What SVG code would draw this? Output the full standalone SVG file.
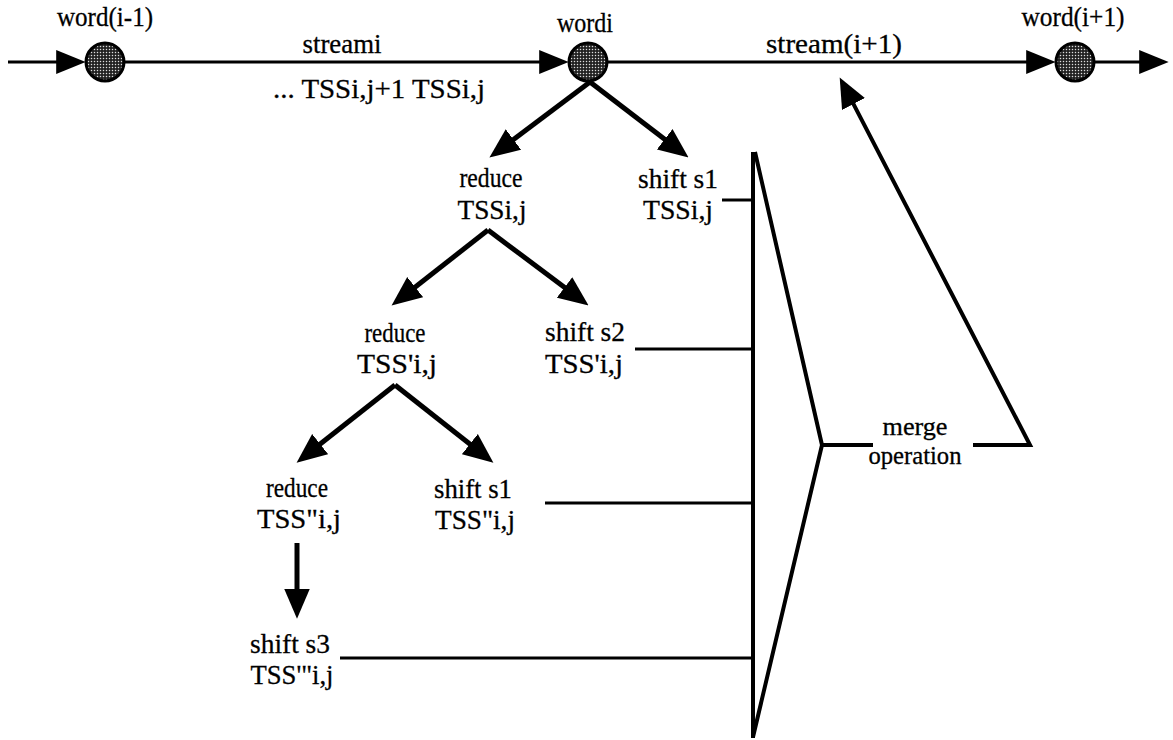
<svg xmlns="http://www.w3.org/2000/svg" width="1173" height="740" viewBox="0 0 1173 740">
<style>
text{font-family:"Liberation Serif","Times New Roman",serif;font-size:28px;fill:#000;stroke:#000;stroke-width:0.3}
.m{text-anchor:middle}
.sm{font-size:25px}
.main{stroke:#000;stroke-width:3;fill:none}
.tree{stroke:#000;stroke-width:5;fill:none}
.mg{stroke:#000;stroke-width:4;fill:none}
.feed{stroke:#000;stroke-width:3;fill:none}
.node{fill:url(#dots);stroke:#000;stroke-width:3}
</style>
<defs>
<pattern id="dots" patternUnits="userSpaceOnUse" width="3" height="3">
<rect width="3" height="3" fill="#222"/>
<circle cx="1.5" cy="1.5" r="0.75" fill="#ddd"/>
</pattern>
<marker id="ah" markerUnits="userSpaceOnUse" markerWidth="30" markerHeight="26" viewBox="0 0 28 24" refX="18" refY="12" orient="auto">
<path d="M0,0 L28,12 L0,24 z" fill="#000"/>
</marker>
<marker id="ahs" markerUnits="userSpaceOnUse" markerWidth="30" markerHeight="24" viewBox="0 0 27 22" refX="20" refY="11" orient="auto">
<path d="M0,0 L27,11 L0,22 z" fill="#000"/>
</marker>
</defs>
<g id="connectors">
<line class="main" x1="8" y1="62" x2="78" y2="62" marker-end="url(#ahs)"/>
<line class="main" x1="124" y1="62" x2="561" y2="62" marker-end="url(#ahs)"/>
<line class="main" x1="608" y1="62" x2="1048" y2="62" marker-end="url(#ahs)"/>
<line class="main" x1="1094" y1="62" x2="1161" y2="62" marker-end="url(#ahs)"/>
<line class="tree" x1="590" y1="82" x2="498" y2="151" marker-end="url(#ah)"/>
<line class="tree" x1="590" y1="82" x2="680" y2="151" marker-end="url(#ah)"/>
<line class="tree" x1="488" y1="230" x2="400" y2="299" marker-end="url(#ah)"/>
<line class="tree" x1="488" y1="230" x2="580" y2="299" marker-end="url(#ah)"/>
<line class="tree" x1="395" y1="385" x2="305" y2="456" marker-end="url(#ah)"/>
<line class="tree" x1="395" y1="385" x2="485" y2="456" marker-end="url(#ah)"/>
<line class="tree" x1="297" y1="543" x2="297" y2="608" marker-end="url(#ah)"/>
<line class="feed" x1="722" y1="200" x2="753" y2="200"/>
<line class="feed" x1="635" y1="349" x2="753" y2="349"/>
<line class="feed" x1="545" y1="503" x2="753" y2="503"/>
<line class="feed" x1="340" y1="658" x2="753" y2="658"/>
<path class="mg" d="M822,445 L873,445"/>
<path class="mg" d="M973,445 L1030,445 L844.6,86.9" marker-end="url(#ah)"/>
</g>
<g id="merge">
<line class="mg" x1="753" y1="152" x2="753" y2="738"/>
<path class="mg" d="M755,152 L822,445 L753,737"/>
<text class="m sm" x="915" y="435" textLength="65" lengthAdjust="spacingAndGlyphs">merge</text>
<text class="m sm" x="915" y="464" textLength="93" lengthAdjust="spacingAndGlyphs">operation</text>
</g>
<g id="word-i-minus-1">
<circle class="node" cx="105" cy="62" r="19"/>
<text class="m" x="105" y="26" textLength="96" lengthAdjust="spacingAndGlyphs">word(i-1)</text>
</g>
<g id="word-i">
<circle class="node" cx="588" cy="62" r="19"/>
<text class="m" x="585" y="32" textLength="56" lengthAdjust="spacingAndGlyphs">wordi</text>
</g>
<g id="word-i-plus-1">
<circle class="node" cx="1075" cy="62" r="19"/>
<text class="m" x="1073" y="26" textLength="103" lengthAdjust="spacingAndGlyphs">word(i+1)</text>
</g>
<g id="stream-labels">
<text class="m" x="342" y="53" textLength="79" lengthAdjust="spacingAndGlyphs">streami</text>
<text x="273" y="98" textLength="212" lengthAdjust="spacingAndGlyphs">... TSSi,j+1  TSSi,j</text>
<text x="766" y="53" textLength="136" lengthAdjust="spacingAndGlyphs">stream(i+1)</text>
</g>
<g id="reduce-1">
<text class="m" x="491" y="187" textLength="63" lengthAdjust="spacingAndGlyphs">reduce</text>
<text class="m" x="492" y="219" textLength="69" lengthAdjust="spacingAndGlyphs">TSSi,j</text>
</g>
<g id="shift-s1-a">
<text class="m" x="678" y="188" textLength="80" lengthAdjust="spacingAndGlyphs">shift s1</text>
<text class="m" x="678" y="219" textLength="70" lengthAdjust="spacingAndGlyphs">TSSi,j</text>
</g>
<g id="reduce-2">
<text class="m" x="395" y="342" textLength="61" lengthAdjust="spacingAndGlyphs">reduce</text>
<text class="m" x="397" y="373" textLength="80" lengthAdjust="spacingAndGlyphs">TSS'i,j</text>
</g>
<g id="shift-s2">
<text class="m" x="585" y="341" textLength="80" lengthAdjust="spacingAndGlyphs">shift s2</text>
<text class="m" x="584" y="373" textLength="78" lengthAdjust="spacingAndGlyphs">TSS'i,j</text>
</g>
<g id="reduce-3">
<text class="m" x="297" y="497" textLength="62" lengthAdjust="spacingAndGlyphs">reduce</text>
<text class="m" x="299" y="528" textLength="84" lengthAdjust="spacingAndGlyphs">TSS"i,j</text>
</g>
<g id="shift-s1-b">
<text class="m" x="473" y="498" textLength="78" lengthAdjust="spacingAndGlyphs">shift s1</text>
<text class="m" x="475" y="529" textLength="80" lengthAdjust="spacingAndGlyphs">TSS"i,j</text>
</g>
<g id="shift-s3">
<text class="m" x="290" y="653" textLength="80" lengthAdjust="spacingAndGlyphs">shift s3</text>
<text class="m" x="292" y="684" textLength="83" lengthAdjust="spacingAndGlyphs">TSS'"i,j</text>
</g>
</svg>
